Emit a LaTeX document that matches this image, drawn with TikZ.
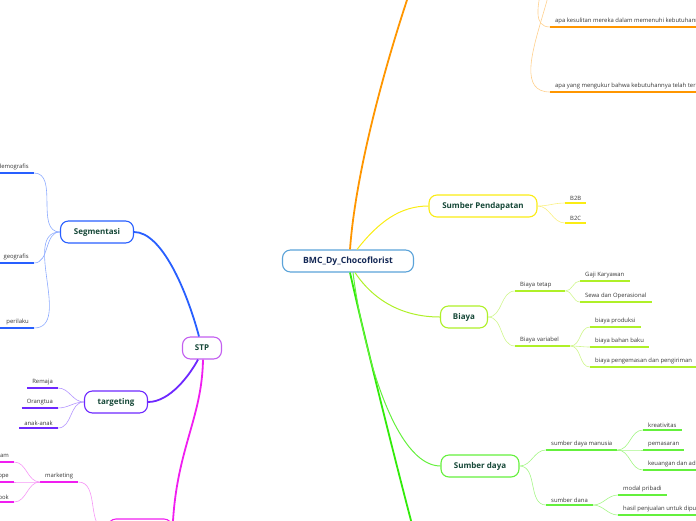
\documentclass[tikz,border=0pt]{standalone}
\usepackage{fontspec}
\setmainfont{Open Sans}
\usepackage{tikz}
\usetikzlibrary{positioning}
\definecolor{hubline}{RGB}{91,163,217}
\definecolor{hubtxt}{RGB}{20,40,85}
\definecolor{topictxt}{RGB}{22,72,56}
\definecolor{leaftxt}{RGB}{55,55,55}
\definecolor{orangeBr}{RGB}{255,150,0}
\definecolor{orangeLt}{RGB}{255,208,140}
\definecolor{yellowBr}{RGB}{250,236,20}
\definecolor{yellowLt}{RGB}{250,240,130}
\definecolor{limeBr}{RGB}{175,240,40}
\definecolor{limeLt}{RGB}{208,246,140}
\definecolor{greenBr}{RGB}{50,235,10}
\definecolor{greenMid}{RGB}{100,240,60}
\definecolor{greenLt}{RGB}{165,246,135}
\definecolor{blueBr}{RGB}{40,95,255}
\definecolor{blueLt}{RGB}{140,170,255}
\definecolor{violetBr}{RGB}{110,40,255}
\definecolor{violetLt}{RGB}{180,150,255}
\definecolor{lilac}{RGB}{195,95,240}
\definecolor{magentaBr}{RGB}{240,30,240}
\definecolor{magentaLt}{RGB}{246,150,246}

\begin{document}
\begin{tikzpicture}[x=1pt, y=-1pt,
  topic/.style={draw, fill=white, rounded corners=8pt, line width=1.1pt, minimum height=22pt, inner xsep=2pt,
    font=\fontsize{8}{9}\selectfont\bfseries, text=topictxt},
  leaf/.style={inner xsep=5pt, inner ysep=2.5pt, font=\fontsize{5.9}{6.8}\selectfont, text=leaftxt},
  branch/.style={line width=1.8pt},
  twig/.style={line width=0.6pt},
  uline/.style={line width=1.3pt}]
\useasboundingbox (0,0) rectangle (696,520);
\clip (0,0) rectangle (696,520);
% ---- centre and main topics
\node[topic, draw=hubline, text=hubtxt, minimum width=131pt, font=\fontsize{8.6}{10}\selectfont\bfseries] (hub) at (348,261) {BMC\_Dy\_Chocoflorist};
\node[topic, draw=yellowBr, minimum width=108pt] (income) at (483,206) {Sumber Pendapatan};
\node[topic, draw=limeBr, minimum width=47pt] (cost) at (464,317) {Biaya};
\node[topic, draw=greenMid, minimum width=78pt] (resource) at (480,466) {Sumber daya};
\node[topic, draw=lilac, minimum width=39pt] (stp) at (202,348) {STP};
\node[topic, draw=blueBr, minimum width=73pt] (segment) at (97,232) {Segmentasi};
\node[topic, draw=violetBr, minimum width=63pt] (target) at (116,402) {targeting};
\node[topic, draw=magentaBr, minimum width=64pt] (position) at (140,530) {};
% ---- branches that leave the frame
\coordinate (needsHub) at (535,-60);
\coordinate (offTop) at (411,-12);
\coordinate (offBottom) at (414,532);
\draw[branch, orangeBr] ([xshift=2pt]hub.north) .. controls (355,180) and (380,80) .. (offTop);
\draw[branch, greenBr] ([xshift=2pt]hub.south) .. controls (365,340) and (395,460) .. (offBottom);
\draw[line width=1pt, yellowBr] ([xshift=9pt]hub.north) .. controls +(22,-28) and +(-28,0) .. (income.west);
\draw[line width=1pt, limeBr] ([xshift=7pt]hub.south) .. controls +(20,30) and +(-35,0) .. (cost.west);
\draw[line width=1pt, greenMid] ([xshift=5pt]hub.south) .. controls +(10,80) and +(-45,0) .. (resource.west);
\draw[branch, blueBr] (segment.east) .. controls +(28,0) and +(-12,-45) .. ([xshift=-3pt]stp.north);
\draw[branch, violetBr] (target.east) .. controls +(22,0) and +(-8,15) .. ([xshift=-4pt]stp.south);
\draw[branch, magentaBr] ([xshift=1pt]stp.south) .. controls +(-1,60) and +(3,-80) .. (position.east);
% ---- needs (orange)
\node[leaf, anchor=south west] (needs1) at (550,27) {apa kesulitan mereka dalam memenuhi kebutuhannya};
\node[leaf, anchor=south west] (needs2) at (550,92) {apa yang mengukur bahwa kebutuhannya telah terpenuhi};
\draw[twig, orangeLt] (needsHub) to[out=0, in=180] (needs1.south west);
\draw[twig, orangeLt] (needsHub) to[out=0, in=180] (needs2.south west);
\draw[uline, orangeBr] (needs1.south west) -- (needs1.south east); \draw[uline, orangeBr] (needs2.south west) -- (needs2.south east);
% ---- income (yellow)
\node[leaf, anchor=south west] (b2b) at (565,203) {B2B};
\node[leaf, anchor=south west] (b2c) at (565,223) {B2C};
\draw[twig, yellowLt] (income.east) to[out=0, in=180] (b2b.south west);
\draw[twig, yellowLt] (income.east) to[out=0, in=180] (b2c.south west);
\draw[uline, yellowBr] (b2b.south west) -- (b2b.south east); \draw[uline, yellowBr] (b2c.south west) -- (b2c.south east);
% ---- cost (lime)
\node[leaf, anchor=south west, text width=40pt] (fixed) at (515,291) {Biaya tetap};
\node[leaf, anchor=south west, text width=45pt] (variable) at (515,346) {Biaya variabel};
\node[leaf, anchor=south west] (wage) at (580,281) {Gaji Karyawan};
\node[leaf, anchor=south west] (rent) at (580,302) {Sewa dan Operasional};
\node[leaf, anchor=south west] (prod) at (590,327) {biaya produksi};
\node[leaf, anchor=south west] (raw) at (590,347) {biaya bahan baku};
\node[leaf, anchor=south west] (pack) at (590,367) {biaya pengemasan dan pengiriman};
\draw[twig, limeLt] (cost.east) to[out=0, in=180] (fixed.south west);
\draw[twig, limeLt] (cost.east) to[out=0, in=180] (variable.south west);
\draw[twig, limeLt] (fixed.south east) to[out=0, in=180] (wage.south west);
\draw[twig, limeLt] (fixed.south east) to[out=0, in=180] (rent.south west);
\draw[twig, limeLt] (variable.south east) to[out=0, in=180] (prod.south west);
\draw[twig, limeLt] (variable.south east) to[out=0, in=180] (raw.south west);
\draw[twig, limeLt] (variable.south east) to[out=0, in=180] (pack.south west);
\foreach \n in {fixed, variable, wage, rent, prod, raw, pack}
  \draw[uline, limeBr] (\n.south west) -- (\n.south east);
% ---- resources (green)
\node[leaf, anchor=south west] (people) at (546,450) {sumber daya manusia};
\node[leaf, anchor=south west] (fund) at (546,505) {sumber dana};
\node[leaf, anchor=south west] (creative) at (643,430) {kreativitas};
\node[leaf, anchor=south west] (market) at (643,450) {pemasaran};
\node[leaf, anchor=south west] (finance) at (643,470) {keuangan dan administrasi};
\node[leaf, anchor=south west] (own) at (618,495) {modal pribadi};
\node[leaf, anchor=south west] (sales) at (618,515) {hasil penjualan untuk diputar kembali};
\draw[twig, greenLt] (resource.east) to[out=0, in=180] (people.south west);
\draw[twig, greenLt] (resource.east) to[out=0, in=180] (fund.south west);
\draw[twig, greenLt] (people.south east) to[out=0, in=180] (creative.south west);
\draw[twig, greenLt] (people.south east) to[out=0, in=180] (market.south west);
\draw[twig, greenLt] (people.south east) to[out=0, in=180] (finance.south west);
\draw[twig, greenLt] (fund.south east) to[out=0, in=180] (own.south west);
\draw[twig, greenLt] (fund.south east) to[out=0, in=180] (sales.south west);
\foreach \n in {people, fund, creative, market, finance, own, sales}
  \draw[uline, greenMid] (\n.south west) -- (\n.south east);
% ---- segmentation (blue)
\node[leaf, anchor=south east, text width=40pt, align=right] (demo) at (34,173) {demografis};
\node[leaf, anchor=south east, text width=29pt, align=right] (geo) at (34,263) {geografis};
\node[leaf, anchor=south east, text width=29pt, align=right] (behave) at (34,328) {perilaku};
\foreach \n in {demo, geo, behave} {
  \draw[twig, blueLt] (segment.west) to[out=180, in=0] (\n.south east);
  \draw[uline, blueBr] (\n.south west) -- (\n.south east); }
% ---- targeting (violet)
\node[leaf, anchor=south east] (teen) at (58,388) {Remaja};
\node[leaf, anchor=south east] (parent) at (58,408) {Orangtua};
\node[leaf, anchor=south east] (kids) at (58,428) {anak-anak};
\foreach \n in {teen, parent, kids} {
  \draw[twig, violetLt] (target.west) to[out=180, in=0] (\n.south east);
  \draw[uline, violetBr] (\n.south west) -- (\n.south east); }
% ---- marketing (magenta)
\node[leaf, anchor=south west] (mkt) at (40,482) {marketing};
\node[leaf, anchor=south east] (insta) at (14,462) {Instagram};
\node[leaf, anchor=south east] (shop) at (14,482) {Shoppe};
\node[leaf, anchor=south east] (fb) at (14,502) {Facebook};
\draw[twig, magentaLt] (mkt.south east) to[out=0, in=180] (position.west);
\draw[uline, magentaBr] (mkt.south west) -- (mkt.south east);
\foreach \n in {insta, shop, fb} {
  \draw[twig, magentaLt] (mkt.south west) to[out=180, in=0] (\n.south east);
  \draw[uline, magentaBr] (\n.south west) -- (\n.south east); }
\end{tikzpicture}
\end{document}
